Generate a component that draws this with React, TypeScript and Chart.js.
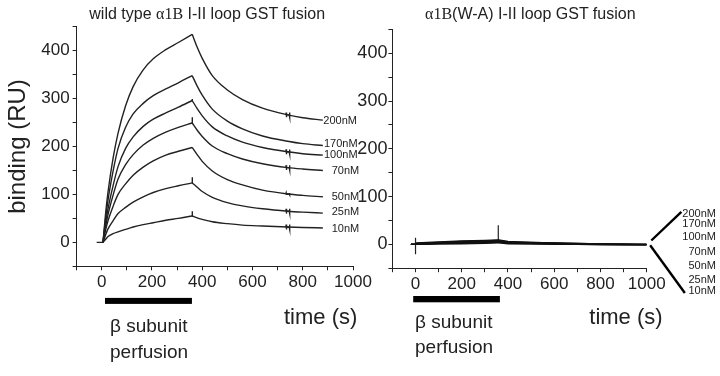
import React, { useEffect, useRef } from 'react';
import { Chart, registerables } from 'chart.js';

Chart.register(...registerables);

const FONT = "'Liberation Sans', Arial, Helvetica, sans-serif";
const SERIF = "'Liberation Serif', 'Times New Roman', serif";
const INK = '#222';

// ---------- data ----------
const CONCENTRATIONS = ['200nM', '170nM', '100nM', '70nM', '50nM', '25nM', '10nM'];

const BASELINE_T = [-20, 5];
const BASELINE_V = [0, 0];

const ASSOC_T = [5, 15, 25, 45, 65, 95, 125, 165, 205, 255, 305, 360];
const ASSOC_200 = [0, 58, 105, 175, 228, 285, 325, 360, 383, 402, 417, 434];
const ASSOC_170 = [0, 48, 88, 148, 196, 240, 268, 290, 306, 320, 333, 348];
const ASSOC_100 = [0, 38, 70, 118, 158, 196, 220, 242, 257, 270, 282, 296];
const ASSOC_70 = [0, 32, 58, 98, 132, 162, 183, 203, 217, 230, 240, 249];
const ASSOC_50 = [0, 25, 45, 75, 100, 122, 140, 157, 170, 182, 190, 198];
const ASSOC_25 = [0, 15, 28, 45, 60, 73, 84, 95, 104, 112, 118, 124];
const ASSOC_10 = [0, 6, 12, 18, 22, 27, 32, 37, 41, 46, 50, 55];

const DISSOC_T = [360, 380, 400, 440, 500, 560, 640, 740, 800, 880];
const DISSOC_200 = [434, 407, 384, 348, 318, 298, 280, 266, 260, 255];
const DISSOC_170 = [348, 326, 307, 278, 253, 237, 222, 211, 206, 202];
const DISSOC_100 = [296, 279, 264, 241, 222, 209, 198, 189, 185, 182];
const DISSOC_70 = [249, 234, 221, 201, 185, 174, 164, 156, 153, 150];
const DISSOC_50 = [198, 183, 169, 149, 131, 120, 109, 101, 98, 95];
const DISSOC_25 = [124, 115, 106, 94, 83, 76, 70, 65, 63, 61];
const DISSOC_10 = [55, 51, 48, 43, 39, 36, 34, 32, 31, 30];

// injection spike at end of perfusion (RU above peak)
const INJECTION_SPIKE = [0, 0, 3, 12, 0, 12, 10];
// small wash artefacts around t = 735 and 748 s (RU amplitude)
const WASH_BLIP = [5, 0, 5, 5, 2, 5, 5];
const BLIP_T = [733, 734, 735, 736, 746, 747, 748, 749];

// mutant (W-A) panel: all concentrations overlap near zero
const RIGHT_T = [-20, 0, 5, 50, 100, 200, 300, 355, 360, 400, 500, 600, 700, 800, 900, 1000];
const RIGHT_200 = [0, 0, 3, 4, 5, 7, 8, 9, 9, 6, 4, 3, 2, 1, 1, 0];
const RIGHT_170 = [0, 0, 2, 3, 4, 6, 7, 8, 8, 5, 4, 3, 2, 1, 0, 0];
const RIGHT_100 = [0, 0, 2, 2, 3, 5, 6, 7, 7, 4, 3, 2, 1, 1, 0, 0];
const RIGHT_70 = [0, 0, 1, 2, 3, 4, 5, 6, 6, 4, 3, 2, 1, 0, 0, 0];
const RIGHT_50 = [0, 0, 1, 1, 2, 3, 4, 5, 5, 3, 2, 1, 1, 0, 0, -1];
const RIGHT_25 = [0, 0, 0, 1, 1, 2, 3, 4, 4, 2, 1, 1, 0, 0, -1, -1];
const RIGHT_10 = [0, 0, 0, 0, 1, 1, 2, 3, 3, 1, 1, 0, 0, -1, -1, -1];
const RIGHT_SPIKE_START_T = [0, 0];
const RIGHT_SPIKE_START_V = [14, -21];
const RIGHT_SPIKE_END_T = [358, 358];
const RIGHT_SPIKE_END_V = [40, 2];

// fan connecting the overlapping mutant traces to their labels (t, RU)
const FAN_UPPER = [[1020, 8], [1150, 68]];
const FAN_LOWER = [[1015, -2], [1165, -102]];

// beta subunit perfusion window (s)
const PERFUSION_LEFT = [13, 359];
const PERFUSION_RIGHT = [-10, 365];

const X_TICKS_LABELLED = [0, 200, 400, 600, 800, 1000];
const Y_TICKS_LABELLED = [0, 100, 200, 300, 400];

// ---------- helpers ----------
const pts = (t: number[], v: number[]) => t.map((x, i) => ({ x, y: v[i] }));

const lineDs = (data: any[], extra: any = {}) => ({
  data,
  borderColor: INK,
  borderWidth: 1.4,
  pointRadius: 0,
  fill: false,
  tension: 0,
  ...extra,
});

function leftDatasets() {
  const assoc = [ASSOC_200, ASSOC_170, ASSOC_100, ASSOC_70, ASSOC_50, ASSOC_25, ASSOC_10];
  const dissoc = [DISSOC_200, DISSOC_170, DISSOC_100, DISSOC_70, DISSOC_50, DISSOC_25, DISSOC_10];
  const ds: any[] = [lineDs(pts(BASELINE_T, BASELINE_V))];
  CONCENTRATIONS.forEach((_, i) => {
    ds.push(lineDs(pts(ASSOC_T, assoc[i]), { cubicInterpolationMode: 'monotone' }));
    ds.push(lineDs(pts(DISSOC_T, dissoc[i]), { cubicInterpolationMode: 'monotone' }));
    const peak = assoc[i][assoc[i].length - 1];
    if (INJECTION_SPIKE[i] > 0) {
      ds.push(lineDs([{ x: 360, y: peak }, { x: 360, y: peak + INJECTION_SPIKE[i] }, { x: 361, y: peak }]));
    }
    if (WASH_BLIP[i] > 0) {
      const base = dissoc[i][7];
      const b = WASH_BLIP[i];
      const shape = [0, b, -b, 0, 0, b, -b, 0];
      ds.push(lineDs(BLIP_T.map((x, k) => ({ x, y: base + shape[k] }))));
    }
  });
  return ds;
}

function rightDatasets() {
  const traces = [RIGHT_200, RIGHT_170, RIGHT_100, RIGHT_70, RIGHT_50, RIGHT_25, RIGHT_10];
  const ds: any[] = traces.map((v) => lineDs(pts(RIGHT_T, v), { borderWidth: 1.3, borderColor: '#111' }));
  ds.push(lineDs([{ x: RIGHT_SPIKE_START_T[0], y: RIGHT_SPIKE_START_V[0] }, { x: RIGHT_SPIKE_START_T[1], y: RIGHT_SPIKE_START_V[1] }], { borderWidth: 1.2 }));
  ds.push(lineDs([{ x: RIGHT_SPIKE_END_T[0], y: RIGHT_SPIKE_END_V[0] }, { x: RIGHT_SPIKE_END_T[1], y: RIGHT_SPIKE_END_V[1] }], { borderWidth: 1.2 }));
  return ds;
}

function makeOptions(cfg: {
  padTop: number;
  padRight: number;
  yWidth: number;
  xHeight: number;
  yFont: number;
  yPad: number;
  yTitle?: string;
}) {
  return {
    responsive: false,
    animation: false as const,
    events: [],
    layout: { padding: { left: 0, top: cfg.padTop, right: cfg.padRight, bottom: 0 } },
    plugins: { legend: { display: false }, tooltip: { enabled: false }, title: { display: false } },
    scales: {
      x: {
        type: 'linear' as const,
        min: -100,
        max: 1000,
        afterFit: (s: any) => {
          s.height = cfg.xHeight;
          s.paddingLeft = 0;
          s.paddingRight = 0;
        },
        ticks: {
          stepSize: 100,
          autoSkip: false,
          maxRotation: 0,
          padding: 2,
          color: INK,
          font: { family: FONT, size: 17 },
          callback: (v: any) => (X_TICKS_LABELLED.includes(Number(v)) ? String(v) : ''),
        },
        grid: { drawOnChartArea: false, drawTicks: true, tickLength: 4, color: INK, lineWidth: 1 },
        border: { display: true, color: INK, width: 1 },
      },
      y: {
        type: 'linear' as const,
        min: -50,
        max: 450,
        afterFit: (s: any) => {
          s.width = cfg.yWidth;
          s.paddingTop = 0;
          s.paddingBottom = 0;
        },
        ticks: {
          stepSize: 50,
          autoSkip: false,
          padding: cfg.yPad,
          color: INK,
          font: { family: FONT, size: cfg.yFont },
          callback: (v: any) => (Y_TICKS_LABELLED.includes(Number(v)) ? String(v) : ''),
        },
        grid: { drawOnChartArea: false, drawTicks: true, tickLength: 4, color: INK, lineWidth: 1 },
        border: { display: true, color: INK, width: 1 },
        title: cfg.yTitle
          ? {
              display: true,
              text: cfg.yTitle,
              color: INK,
              font: { family: FONT, size: 24 },
              padding: { top: 4, bottom: 0 },
            }
          : { display: false },
      },
    },
  };
}

function perfusionPlugin(range: number[], offset: number, thickness: number) {
  return {
    id: 'perfusionBar',
    afterDraw(chart: any) {
      const xs = chart.scales.x;
      const ctx = chart.ctx;
      const x0 = xs.getPixelForValue(range[0]);
      const x1 = xs.getPixelForValue(range[1]);
      ctx.save();
      ctx.fillStyle = '#000';
      ctx.fillRect(x0, chart.chartArea.bottom + offset, x1 - x0, thickness);
      ctx.restore();
    },
  };
}

const fanPlugin = {
  id: 'fanLines',
  afterDraw(chart: any) {
    const xs = chart.scales.x;
    const ys = chart.scales.y;
    const ctx = chart.ctx;
    ctx.save();
    ctx.strokeStyle = '#000';
    ctx.lineWidth = 2.4;
    [FAN_UPPER, FAN_LOWER].forEach((seg) => {
      ctx.beginPath();
      ctx.moveTo(xs.getPixelForValue(seg[0][0]), ys.getPixelForValue(seg[0][1]));
      ctx.lineTo(xs.getPixelForValue(seg[1][0]), ys.getPixelForValue(seg[1][1]));
      ctx.stroke();
    });
    ctx.restore();
  },
};

const LEFT_LABEL_POS = [
  [323.3, 114.6],
  [324, 137.6],
  [324, 148.6],
  [331.7, 165.3],
  [331.7, 191.3],
  [331.7, 206.3],
  [331.7, 222.9],
];
const RIGHT_LABEL_TOP = [207.6, 218, 231.3, 246.3, 259.6, 273.9, 284.6];

const txt = (extra: React.CSSProperties): React.CSSProperties => ({
  position: 'absolute',
  fontFamily: FONT,
  color: INK,
  lineHeight: 1,
  whiteSpace: 'nowrap',
  margin: 0,
  ...extra,
});

export default function App() {
  const leftRef = useRef<HTMLCanvasElement | null>(null);
  const rightRef = useRef<HTMLCanvasElement | null>(null);

  useEffect(() => {
    const left = new Chart(leftRef.current as HTMLCanvasElement, {
      type: 'line',
      data: { datasets: leftDatasets() },
      options: makeOptions({ padTop: 26.7, padRight: 27, yWidth: 76.6, xHeight: 109.7, yFont: 17, yPad: 3, yTitle: 'binding (RU)' }) as any,
      plugins: [perfusionPlugin(PERFUSION_LEFT, 31.6, 6)],
    });
    const right = new Chart(rightRef.current as HTMLCanvasElement, {
      type: 'line',
      data: { datasets: rightDatasets() },
      options: makeOptions({ padTop: 29.4, padRight: 73.3, yWidth: 52.4, xHeight: 107.8, yFont: 18, yPad: 1 }) as any,
      plugins: [perfusionPlugin(PERFUSION_RIGHT, 27.8, 6.3), fanPlugin],
    });
    return () => {
      left.destroy();
      right.destroy();
    };
  }, []);

  return (
    <div style={{ position: 'absolute', left: 0, top: 0, width: 720, height: 376, background: '#fff', overflow: 'hidden' }}>
      <canvas ref={leftRef} width={380} height={376} style={{ position: 'absolute', left: 0, top: 0, width: 380, height: 376 }} />
      <canvas ref={rightRef} width={380} height={376} style={{ position: 'absolute', left: 340, top: 0, width: 380, height: 376 }} />

      <div style={txt({ left: 89.3, top: 5.5, fontSize: 16 })}>
        wild type <span style={{ fontFamily: SERIF }}>α1B</span> I-II loop GST fusion
      </div>
      <div style={txt({ left: 425, top: 5.5, fontSize: 16 })}>
        <span style={{ fontFamily: SERIF }}>α1B</span>(W-A) I-II loop GST fusion
      </div>

      {CONCENTRATIONS.map((c, i) => (
        <div key={'l' + c} style={txt({ left: LEFT_LABEL_POS[i][0], top: LEFT_LABEL_POS[i][1], fontSize: 11 })}>
          {c}
        </div>
      ))}
      {CONCENTRATIONS.map((c, i) => (
        <div key={'r' + c} style={txt({ right: 4, top: RIGHT_LABEL_TOP[i], fontSize: 11, textAlign: 'right' })}>
          {c}
        </div>
      ))}

      <div style={txt({ left: 110, top: 315.7, fontSize: 19 })}>β subunit</div>
      <div style={txt({ left: 110, top: 342.4, fontSize: 19 })}>perfusion</div>
      <div style={txt({ left: 284, top: 305.9, fontSize: 22 })}>time (s)</div>

      <div style={txt({ left: 415, top: 312.4, fontSize: 19 })}>β subunit</div>
      <div style={txt({ left: 415, top: 337.4, fontSize: 19 })}>perfusion</div>
      <div style={txt({ left: 589.3, top: 305.9, fontSize: 22 })}>time (s)</div>
    </div>
  );
}
